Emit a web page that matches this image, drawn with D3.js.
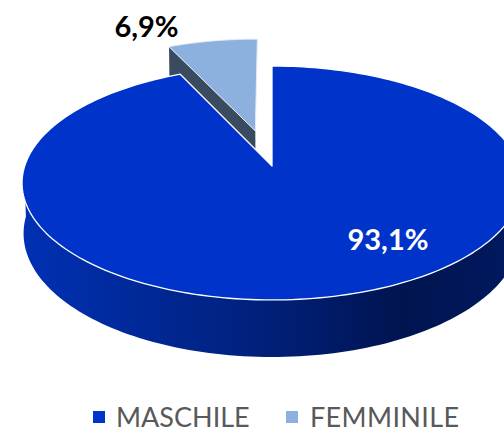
<!DOCTYPE html>
<html>
<head>
<meta charset="utf-8">
<script src="https://cdn.jsdelivr.net/npm/d3@7"></script>
<style>
    html, body { margin: 0; padding: 0; background: #fff; overflow: hidden; }
    text { font-family: Lato, "Open Sans", sans-serif; }
</style>
</head>
<body>
<div id="myDataVis"></div>
<script>
const categories = ['MASCHILE', 'FEMMINILE'];
const values = [93.1, 6.9];
const valueLabels = ['93,1%', '6,9%'];
const sliceColors = ['#0033c9', '#8db1df'];

const width = 504, height = 428;
const centerX = 272, centerY = 166;
// 3d pie: tilted disc seen in perspective
const scaleX = 247.3, scaleY = 114.5, tilt = -0.1453;
const depthY = 49.9, depthW = 0.006;
const explode = 0.328;

const svg = d3.select("#myDataVis")
    .append("svg")
    .attr("width", width)
    .attr("height", height);

const color = d3.scaleOrdinal().domain(categories).range(sliceColors);

const pie = d3.pie().sort(null);
const arcs = pie(values).map((d, i) => ({...d, name: categories[i], label: valueLabels[i]}));

// disc coordinates (u right, v toward viewer, z down) to screen
const project = (u, v, z) => {
    const w = 1 + tilt * v + depthW * z;
    return [centerX + scaleX * u / w, centerY + (scaleY * v + depthY * z) / w];
};

const offsetOf = (d) => {
    if (d.name !== 'FEMMINILE') return [0, 0];
    const mid = (d.startAngle + d.endAngle) / 2;
    return [explode * Math.sin(mid), -explode * Math.cos(mid)];
};

const rimPoint = (d, angle, z) => {
    const o = offsetOf(d);
    return project(o[0] + Math.sin(angle), o[1] - Math.cos(angle), z);
};

const line = d3.line();

const sampleAngles = (d) => d3.range(0, 241).map(i => d.startAngle + (d.endAngle - d.startAngle) * i / 240);

const topPath = (d) => {
    const o = offsetOf(d);
    return line([project(o[0], o[1], 0), ...sampleAngles(d).map(a => rimPoint(d, a, 0))]) + "Z";
};

const defs = svg.append("defs");
const grad = defs.append("linearGradient")
    .attr("id", "wallGradient")
    .attr("gradientUnits", "userSpaceOnUse")
    .attr("x1", 22).attr("x2", 522).attr("y1", 0).attr("y2", 0);
grad.selectAll("stop")
    .data([[0, '#0030b4'], [0.2, '#002a9c'], [0.5, '#001f78'], [0.76, '#001450'], [1, '#001a60']])
    .join("stop")
    .attr("offset", d => d[0])
    .attr("stop-color", d => d[1]);

const male = arcs[0], female = arcs[1];

// cut face of the pulled out slice, the big slice covers most of it
const faceAngle = female.startAngle;
const fo = offsetOf(female);
svg.append("path")
    .attr("d", line([
        project(fo[0], fo[1], 0),
        rimPoint(female, faceAngle, 0),
        rimPoint(female, faceAngle, 1),
        project(fo[0], fo[1], 1)
    ]) + "Z")
    .attr("fill", "#3a4a5f");

svg.append("path")
    .attr("class", "slice")
    .attr("d", topPath(female))
    .attr("fill", color(female.name))
    .attr("stroke", "#e4ecf6")
    .attr("stroke-width", 1)
    .attr("stroke-linejoin", "round");

// outer wall of the big slice, front half only
const frontAngles = sampleAngles(male).filter(a => Math.cos(a) <= 0);
svg.append("path")
    .attr("d", line([
        ...frontAngles.map(a => rimPoint(male, a, 0)),
        ...frontAngles.slice().reverse().map(a => rimPoint(male, a, 1))
    ]) + "Z")
    .attr("fill", "url(#wallGradient)");

svg.append("path")
    .attr("class", "slice")
    .attr("d", topPath(male))
    .attr("fill", color(male.name))
    .attr("stroke", "#fff")
    .attr("stroke-width", 1.3)
    .attr("stroke-linejoin", "round");

// value labels
const labelPos = [[388, 250], [146.5, 36.5]];
const labelFill = ['#fff', '#000'];
svg.selectAll(".valueLabel")
    .data(arcs)
    .join("text")
    .attr("class", "valueLabel")
    .attr("x", (d, i) => labelPos[i][0])
    .attr("y", (d, i) => labelPos[i][1])
    .attr("text-anchor", "middle")
    .attr("font-weight", 700)
    .attr("font-size", 29)
    .attr("fill", (d, i) => labelFill[i])
    .text(d => d.label);

// legend
const legendX = [93, 286];
const legendTextX = [23, 24];
const legendSpacing = [0, 0.35];
const legend = svg.selectAll(".legendItem")
    .data(categories)
    .join("g")
    .attr("class", "legendItem")
    .attr("transform", (d, i) => "translate(" + legendX[i] + ",411)");

legend.append("rect")
    .attr("width", 12)
    .attr("height", 12)
    .attr("fill", d => color(d));

legend.append("text")
    .attr("x", (d, i) => legendTextX[i])
    .attr("y", 16)
    .attr("font-size", 27)
    .attr("letter-spacing", (d, i) => legendSpacing[i])
    .attr("fill", "#595959")
    .text(d => d);
</script>
</body>
</html>
